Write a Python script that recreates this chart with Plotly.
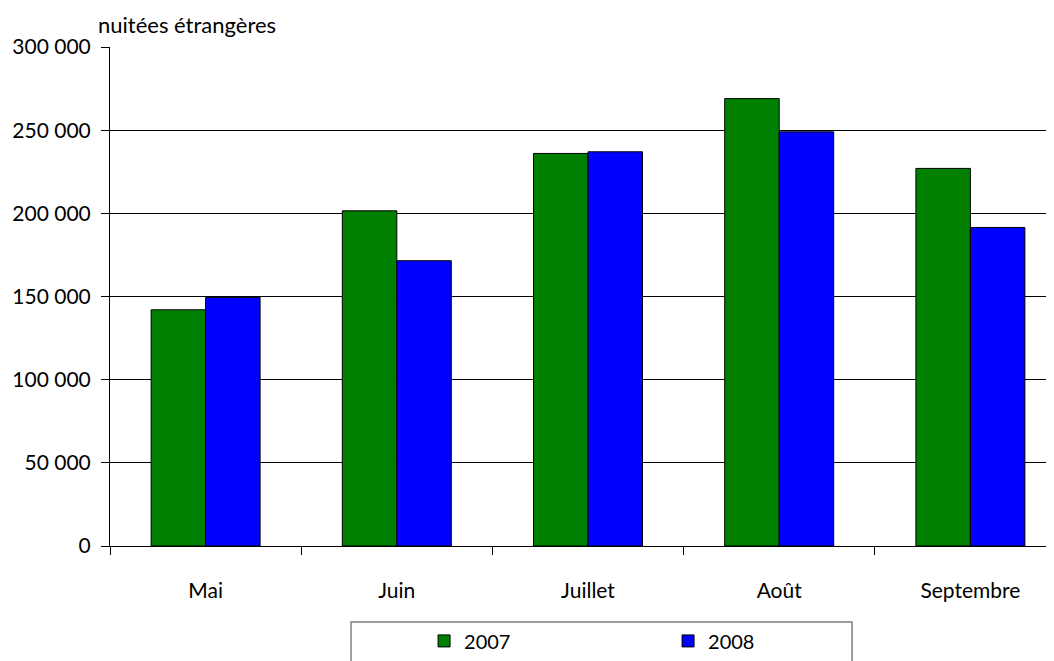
import plotly.graph_objects as go

months = ["Mai", "Juin", "Juillet", "Août", "Septembre"]
v2007 = [142000, 201500, 236000, 269000, 227000]
v2008 = [149500, 171500, 237000, 249000, 191500]
ytick_vals = [0, 50000, 100000, 150000, 200000, 250000, 300000]
ytick_text = ["0", "50 000", "100 000", "150 000", "200 000", "250 000", "300 000"]

FONT = "Lato, 'Open Sans', sans-serif"
FS = 21

fig = go.Figure()
fig.add_bar(x=months, y=v2007, name="2007", marker=dict(color="#008000", line=dict(color="black", width=1)))
fig.add_bar(x=months, y=v2008, name="2008", marker=dict(color="#0000FF", line=dict(color="black", width=1)))

fig.update_layout(
    width=1066, height=661,
    margin=dict(l=102, r=8, t=39, b=123, autoexpand=False),
    paper_bgcolor="white", plot_bgcolor="white",
    barmode="group", bargap=0.43, bargroupgap=0,
    font=dict(family=FONT, size=FS, color="black"),
    showlegend=True,
    legend=dict(orientation="h", xref="container", yref="container", x=0.3903, xanchor="left",
                y=0.072, yanchor="top", borderwidth=0, entrywidth=199, entrywidthmode="pixels",
                font=dict(size=20), itemwidth=30, bgcolor="rgba(0,0,0,0)"),
    shapes=[dict(type="rect", xref="paper", yref="paper", x0=0.2521, x1=0.7762, y0=-0.1523, y1=-0.26,
                 line=dict(color="#808080", width=1.5), fillcolor="rgba(0,0,0,0)", layer="below")],
    annotations=[dict(text="nuitées étrangères", xref="paper", yref="paper", x=-0.0146, y=1.014,
                      xanchor="left", yanchor="bottom", showarrow=False, font=dict(size=22))],
)
fig.update_xaxes(showline=True, linecolor="black", linewidth=1, ticks="outside", tickson="boundaries",
                 ticklen=8, tickcolor="black", showgrid=False, ticklabelstandoff=26)
fig.update_yaxes(range=[0, 300000], tickvals=ytick_vals, ticktext=ytick_text, showline=True,
                 linecolor="black", linewidth=1, ticks="outside", ticklen=8, tickcolor="black",
                 showgrid=True, gridcolor="black", gridwidth=1, zeroline=False, ticklabelstandoff=6)

fig.write_html("out.html")
